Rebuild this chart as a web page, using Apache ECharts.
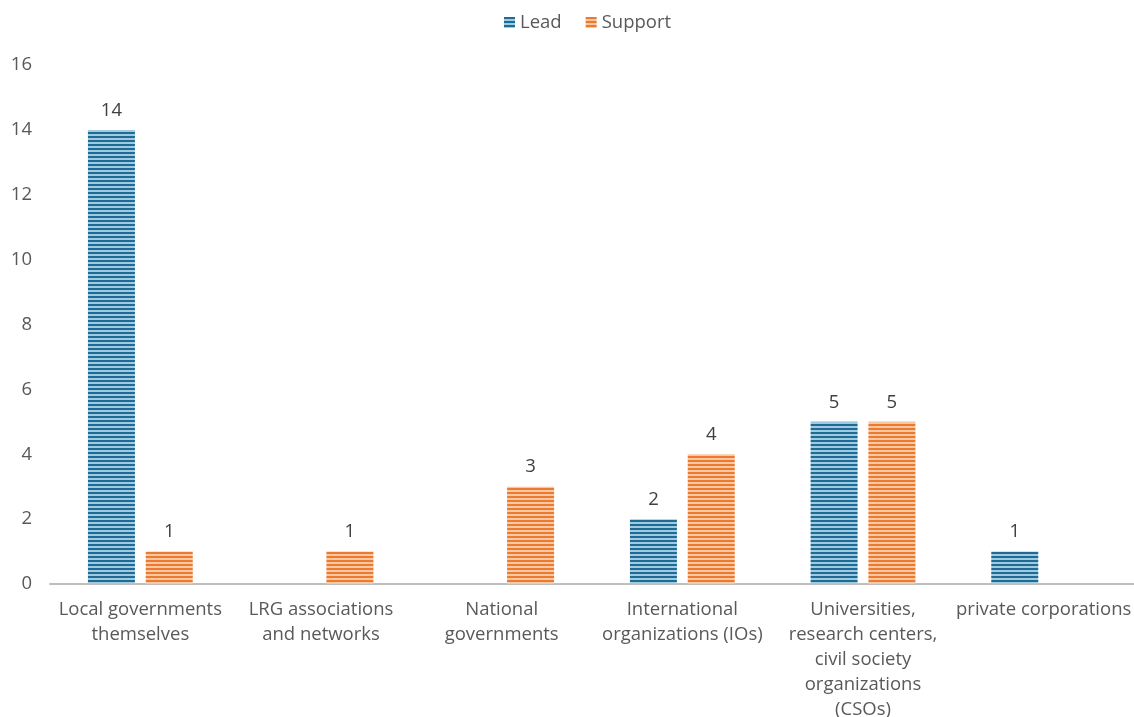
<!DOCTYPE html>
<html>
<head>
<meta charset="utf-8">
<script src="https://cdn.jsdelivr.net/npm/echarts@6/dist/echarts.min.js"></script>
<style>html,body{margin:0;padding:0;background:#fff}#c{width:1134px;height:717px}</style>
</head>
<body>
<div id="c"></div>
<script>
const categories = [
  "Local governments\nthemselves",
  "LRG associations\nand networks",
  "National\ngovernments",
  "International\norganizations (IOs)",
  "Universities,\nresearch centers,\ncivil society\norganizations\n(CSOs)",
  "private corporations"
];
const leadValues = [14, null, null, 2, 5, 1];
const supportValues = [1, 1, 3, 4, 5, null];
const yTicks = [0, 2, 4, 6, 8, 10, 12, 14, 16];

function stripes(dark, light) {
  const c = document.createElement('canvas');
  c.width = 4; c.height = 4;
  const ctx = c.getContext('2d');
  ctx.fillStyle = light; ctx.fillRect(0, 0, 4, 4);
  ctx.fillStyle = dark; ctx.fillRect(0, 0, 4, 2);
  return { image: c, repeat: 'repeat' };
}
const bluePat = stripes('#1f6b93', '#9fcbe2');
const orangePat = stripes('#ec7a2f', '#f8c7a4');

const font = "'Open Sans', 'Liberation Sans', sans-serif";
const fs = 18.5;
const chart = echarts.init(document.getElementById('c'));
const labelCfg = { show: true, position: 'top', distance: 10, color: '#404040', fontSize: fs, fontFamily: font };
chart.setOption({
  animation: false,
  legend: {
    top: 8, left: 499, itemWidth: 11, itemHeight: 11, itemGap: 24, icon: 'rect',
    textStyle: { color: '#595959', fontSize: fs, fontFamily: font },
    data: [
      { name: 'Lead', itemStyle: { color: bluePat } },
      { name: 'Support', itemStyle: { color: orangePat } }
    ]
  },
  grid: { left: 50, right: 0, top: 65, bottom: 133, containLabel: false, outerBoundsMode: 'none' },
  xAxis: {
    type: 'category', data: categories,
    axisLine: { lineStyle: { color: '#bfbfbf', width: 2 } },
    axisTick: { show: false },
    axisLabel: { color: '#595959', fontSize: fs, fontFamily: font, lineHeight: 25, margin: 13, interval: 0 }
  },
  yAxis: {
    type: 'value', min: 0, max: 16, interval: 2,
    axisLine: { show: false }, axisTick: { show: false },
    splitLine: { show: false },
    axisLabel: { color: '#595959', fontSize: fs, fontFamily: font, margin: 18,
      formatter: v => yTicks.includes(v) ? String(v) : '' }
  },
  series: [
    { name: 'Lead', type: 'bar', data: leadValues, barWidth: 47, barGap: '23%',
      itemStyle: { color: bluePat }, label: labelCfg },
    { name: 'Support', type: 'bar', data: supportValues, barWidth: 47,
      itemStyle: { color: orangePat }, label: labelCfg }
  ]
});
</script>
</body>
</html>
